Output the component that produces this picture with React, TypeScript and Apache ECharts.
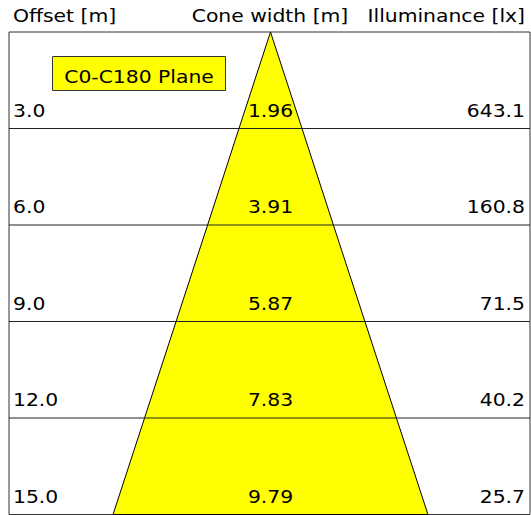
import React, { useEffect, useRef } from "react";
import * as echarts from "echarts";

// ---- data ----
const offsets = [3.0, 6.0, 9.0, 12.0, 15.0]; // m
const coneWidths = [1.96, 3.91, 5.87, 7.83, 9.79]; // m
const illuminance = [643.1, 160.8, 71.5, 40.2, 25.7]; // lx
const columnTitles = ["Offset [m]", "Cone width [m]", "Illuminance [lx]"];
const planeLabel = "C0-C180 Plane";

// axis extents (metres) so that x and y share the same scale
const X_MIN = -8.129;
const X_MAX = 8.067;
const Y_MAX = 15;

const FONT = "DejaVu Sans";
const FS = 18;
const SX = 1.13;

export default function App() {
  const ref = useRef<HTMLDivElement>(null);

  useEffect(() => {
    if (!ref.current) return;
    const chart = echarts.init(ref.current, null, { renderer: "svg" });

    // cone outline: apex, left edge down, right edge up
    const conePoints: number[][] = [[0, 0]];
    offsets.forEach((o, i) => conePoints.push([-coneWidths[i] / 2, o]));
    for (let i = offsets.length - 1; i >= 0; i--) conePoints.push([coneWidths[i] / 2, offsets[i]]);

    const rows = offsets.map((o, i) => [o, coneWidths[i], illuminance[i]]);
    const rowLines = offsets.filter((o) => o < Y_MAX).map((o) => [o]);

    const txt = (x: number, y: number, text: string, align: string) => ({
      type: "text",
      x,
      y,
      scaleX: SX,
      style: {
        text,
        x: 0,
        y: 0,
        align,
        verticalAlign: "middle",
        fill: "#000",
        fontSize: FS,
        fontFamily: FONT,
      },
    });

    const option: any = {
      animation: false,
      backgroundColor: "#fff",
      grid: {
        left: 9,
        right: 1,
        top: 32,
        bottom: 0.5,
        show: true,
        borderColor: "#333",
        borderWidth: 1,
        backgroundColor: "transparent",
      },
      xAxis: {
        type: "value",
        min: X_MIN,
        max: X_MAX,
        show: false,
      },
      yAxis: {
        type: "value",
        min: 0,
        max: Y_MAX,
        inverse: true,
        show: false,
      },
      graphic: [
        txt(13, 16, columnTitles[0], "left"),
        txt(270, 16, columnTitles[1], "center"),
        txt(525, 16, columnTitles[2], "right"),
        {
          type: "rect",
          shape: { x: 52.5, y: 56.5, width: 173, height: 34 },
          style: { fill: "#ffff00", stroke: "#333", lineWidth: 1 },
          z: 10,
        },
        { ...txt(139, 77, planeLabel, "center"), z: 11 },
      ],
      series: [
        {
          type: "custom",
          name: "cone",
          z: 2,
          silent: true,
          data: [[0, 0]],
          renderItem: (_params: any, api: any) => {
            const pts = conePoints.map((p) => api.coord(p));
            return {
              type: "polygon",
              shape: { points: pts },
              style: { fill: "#ffff00", stroke: "#000", lineWidth: 1 },
            };
          },
        },
        {
          type: "custom",
          name: "rows",
          z: 3,
          silent: true,
          data: rowLines,
          renderItem: (_params: any, api: any) => {
            const o = api.value(0);
            const a = api.coord([X_MIN, o]);
            const b = api.coord([X_MAX, o]);
            return {
              type: "line",
              shape: { x1: a[0], y1: a[1], x2: b[0], y2: b[1] },
              style: { stroke: "#222", lineWidth: 1 },
            };
          },
        },
        {
          type: "custom",
          name: "labels",
          z: 4,
          silent: true,
          data: rows,
          renderItem: (_params: any, api: any) => {
            const o = api.value(0);
            const w = api.value(1);
            const lx = api.value(2);
            const pL = api.coord([X_MIN, o]);
            const pC = api.coord([0, o]);
            const pR = api.coord([X_MAX, o]);
            const y = pL[1] - 18;
            return {
              type: "group",
              children: [
                txt(pL[0] + 4, y, o.toFixed(1), "left"),
                txt(pC[0], y, w.toFixed(2), "center"),
                txt(pR[0] - 5, y, lx.toFixed(1), "right"),
              ],
            };
          },
        },
      ],
    };

    chart.setOption(option);
    return () => chart.dispose();
  }, []);

  return (
    <div
      ref={ref}
      style={{ position: "fixed", left: 0, top: 0, width: 531, height: 515, background: "#fff" }}
    />
  );
}
